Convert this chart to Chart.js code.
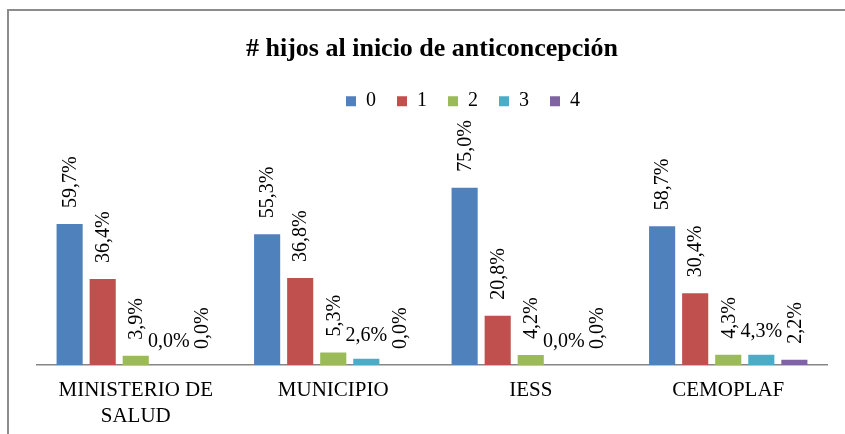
<!DOCTYPE html>
<html>
<head>
<meta charset="utf-8">
<script src="https://cdn.jsdelivr.net/npm/chart.js@4/dist/chart.umd.min.js"></script>
<style>
  body { margin: 0; background: #fff; }
  #frame { position: absolute; left: 7px; top: 9px; width: 850px; height: 440px;
           border-top: 2px solid #8c8c8c; border-left: 2px solid #8c8c8c; }
  #wrap { position: absolute; left: 0; top: 0; width: 845px; height: 434px; }
</style>
</head>
<body>
<div id="frame"></div>
<div id="wrap"><canvas id="myCanvas"></canvas></div>
<script>
'use strict';

const categories = [['MINISTERIO DE', 'SALUD'], 'MUNICIPIO', 'IESS', 'CEMOPLAF'];
const seriesNames = ['0', '1', '2', '3', '4'];
const hijos0 = [59.7, 55.3, 75.0, 58.7];
const hijos1 = [36.4, 36.8, 20.8, 30.4];
const hijos2 = [3.9, 5.3, 4.2, 4.3];
const hijos3 = [0.0, 2.6, 0.0, 4.3];
const hijos4 = [0.0, 0.0, 0.0, 2.2];
const colors = ['#4f81bd', '#c0504d', '#9bbb59', '#4bacc6', '#8064a2'];

const serif = 'Liberation Serif';

// percent labels, excel style: comma decimal, series "3" written flat
const labelPlugin = {
  id: 'pctLabels',
  afterLayout(chart) {
    // legend sits a bit right of centre in the original
    chart.legend.left += 31;
    chart.legend.right += 31;
  },
  afterDatasetsDraw(chart) {
    const ctx = chart.ctx;
    ctx.save();
    ctx.fillStyle = '#000';
    ctx.font = '20px "' + serif + '"';
    chart.data.datasets.forEach(function(ds, i) {
      chart.getDatasetMeta(i).data.forEach(function(bar, j) {
        let txt = ds.data[j].toFixed(1).replace('.', ',') + '%';
        if (i === 3) {
          ctx.textAlign = 'center';
          ctx.textBaseline = 'middle';
          ctx.fillText(txt, bar.x, bar.y - 23);
        } else {
          ctx.save();
          ctx.translate(bar.x + 1, bar.y - 16);
          ctx.rotate(-Math.PI / 2);
          ctx.textAlign = 'left';
          ctx.textBaseline = 'middle';
          ctx.fillText(txt, 0, 0);
          ctx.restore();
        }
      });
    });
    ctx.restore();
  }
};

const allSeries = [hijos0, hijos1, hijos2, hijos3, hijos4];
const datasets = [];
for (let i = 0; i < allSeries.length; i++) {
  datasets.push({
    label: seriesNames[i],
    data: allSeries[i],
    backgroundColor: colors[i],
    categoryPercentage: 0.837,
    barPercentage: 0.79
  });
}

const config = {
  type: 'bar',
  data: { labels: categories, datasets: datasets },
  options: {
    responsive: true,
    maintainAspectRatio: false,
    animation: false,
    layout: { padding: { left: 37, right: 18, bottom: -9, top: 0 } },
    plugins: {
      title: {
        display: true,
        text: '# hijos al inicio de anticoncepción',
        color: '#000',
        font: { family: serif, size: 26, weight: 'bold' },
        padding: { top: 34, bottom: 5 }
      },
      legend: {
        labels: {
          color: '#000',
          font: { family: serif, size: 20 },
          boxWidth: 10,
          boxHeight: 10,
          padding: 21
        }
      },
      tooltip: { enabled: false }
    },
    scales: {
      x: {
        grid: { display: false, drawTicks: false, tickLength: 0 },
        border: { display: true, color: '#868686', width: 1.5 },
        ticks: { color: '#000', font: { family: serif, size: 21, lineHeight: 1.24 }, padding: 13, maxRotation: 0 }
      },
      y: {
        display: false,
        min: 0,
        max: 103.2
      }
    }
  },
  plugins: [labelPlugin]
};

const myChart = new Chart(document.getElementById('myCanvas'), config);
</script>
</body>
</html>
